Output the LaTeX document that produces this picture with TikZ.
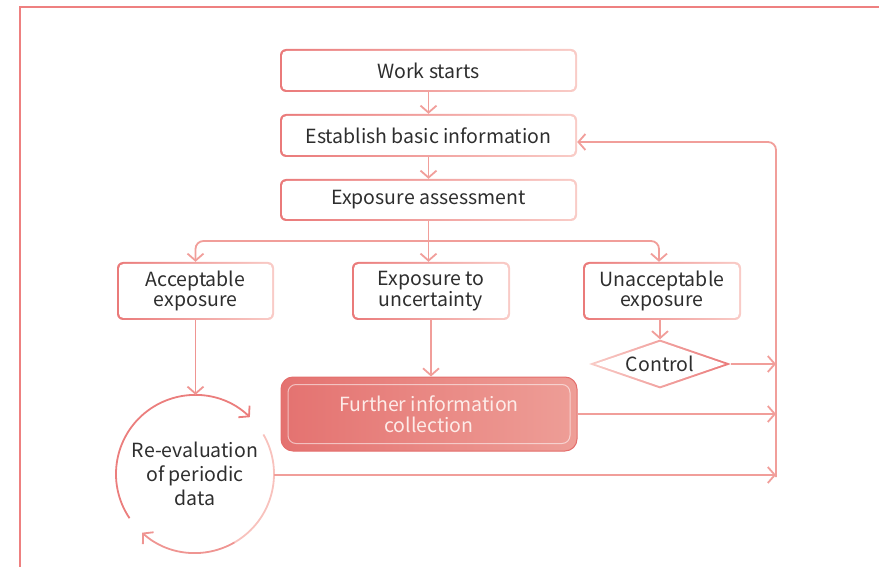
\documentclass[tikz,border=0pt]{standalone}
\usepackage{fontspec}
\setmainfont{Noto Sans CJK SC}
\usetikzlibrary{arrows.meta,shapes.geometric}
\definecolor{framecol}{HTML}{EE8080}
\definecolor{bdark}{HTML}{EA7A7A}
\definecolor{blight}{HTML}{F9CCC7}
\definecolor{conncol}{HTML}{F19E9A}
\definecolor{arcdark}{HTML}{EB7E7D}
\definecolor{arcmid}{HTML}{EF9592}
\definecolor{arclight}{HTML}{F8C2BD}
\definecolor{furleft}{HTML}{E47270}
\definecolor{furright}{HTML}{EE9E97}
\definecolor{furedge}{HTML}{E46E6C}
\definecolor{furtext}{HTML}{FDEBE8}
\definecolor{txt}{HTML}{2E2E2E}
\tikzset{
  gbox/.style={rounded corners=6pt, left color=bdark, right color=blight,
    text=txt, align=center, inner sep=0pt,
    path picture={\fill[white, rounded corners=4.5pt]
      ([shift={(2pt,-2pt)}]path picture bounding box.north west) rectangle
      ([shift={(-2pt,2pt)}]path picture bounding box.south east);}},
  furbox/.style={rounded corners=12pt, left color=furleft, right color=furright,
    draw=furedge, line width=1pt, text=furtext, align=center, inner sep=0pt,
    path picture={\draw[white, opacity=0.55, line width=1pt, rounded corners=8pt]
      ([shift={(7pt,-7.5pt)}]path picture bounding box.north west) rectangle
      ([shift={(-7pt,7.5pt)}]path picture bounding box.south east);}},
  ctrlbox/.style={diamond, aspect=2.9, inner sep=0pt, left color=blight, right color=bdark,
    text=txt,
    path picture={\fill[white]
      ([xshift=6pt]path picture bounding box.west) --
      ([yshift=-2.2pt]path picture bounding box.north) --
      ([xshift=-6pt]path picture bounding box.east) --
      ([yshift=2.2pt]path picture bounding box.south) -- cycle;}},
  conn/.style={draw=conncol, line width=1.8pt},
  tip/.style={-{Straight Barb[length=7pt,width=16pt,line width=1.8pt]}},
  tips/.style={{Straight Barb[length=7pt,width=16pt,line width=1.8pt]}-{Straight Barb[length=7pt,width=16pt,line width=1.8pt]}},
}
\begin{document}
\begin{tikzpicture}[x=1pt, y=1pt, font=\fontsize{19.5}{20.5}\selectfont]
\useasboundingbox (0,0) rectangle (879,566);
\clip (0,0) rectangle (879,566);
% outer frame
\draw[framecol, line width=2.2pt] (20,-10) -- (20,559) -- (890,559);

% boxes
\node[gbox, minimum width=297, minimum height=43] (ws)  at (428.5,495.5) {Work starts};
\node[gbox, minimum width=297, minimum height=43] (ebi) at (428.5,430.5) {Establish basic information};
\node[gbox, minimum width=297, minimum height=42] (ea)  at (428.5,366) {Exposure assessment};
\node[gbox, minimum width=157, minimum height=58] (acc)   at (195.5,275) {Acceptable\\exposure};
\node[gbox, minimum width=158, minimum height=58] (unc)   at (431,275) {Exposure to\\uncertainty};
\node[gbox, minimum width=158, minimum height=58] (unacc) at (662,275) {Unacceptable\\exposure};
\node[ctrlbox, minimum width=142, minimum height=49] (ctrl) at (660,202) {Control};
\node[furbox, minimum width=296, minimum height=74] (fur) at (429,152) {Further information\\collection};
\node[circle, minimum size=158, inner sep=0pt, align=center, text=txt,
      font=\fontsize{19.5}{24}\selectfont] (rev) at (195,92) {Re-evaluation\\of periodic\\data};

% cycle arrows around the re-evaluation circle
\draw[arcdark, line width=1.8pt, tip] (rev.center) ++(214:79) arc[start angle=214, end angle=46, radius=79];
\draw[arclight, line width=1.8pt] (rev.center) ++(30:79) arc[start angle=30, end angle=-60, radius=79];
\draw[arcmid, line width=1.8pt, tip] (rev.center) ++(-60:79) arc[start angle=-60, end angle=-132, radius=79];

% main flow
\draw[conn, tip] (ws.south) -- (ebi.north);
\draw[conn, tip] (ebi.south) -- (ea.north);
\coordinate (br) at (428.5,325);
\draw[conn, tip] (ea.south) -- (ea.south |- unc.north);
\draw[conn, tips, rounded corners=8pt] (acc.north) |- (br) -| ([xshift=-3pt]unacc.north);
\draw[conn, tip, draw=arcmid] (acc.south) -- (acc.south |- rev.north);
\draw[conn, tip] (unc.south) -- (unc.south |- fur.north);
\draw[conn, tip] ([xshift=-2pt]unacc.south) -- (ctrl.north);

% feedback line on the right
\coordinate (rb) at (776,89);
\draw[conn, tip, rounded corners=8pt] (rb) |- ([yshift=-6.5pt]ebi.east);
\draw[conn, tip] (ctrl.east) -- (ctrl.east -| rb);
\draw[conn, tip] (fur.east) -- (fur.east -| rb);
\draw[conn, tip] ([yshift=-1pt]rev.east) -- ([yshift=-1pt]rev.east -| rb);
\end{tikzpicture}
\end{document}
